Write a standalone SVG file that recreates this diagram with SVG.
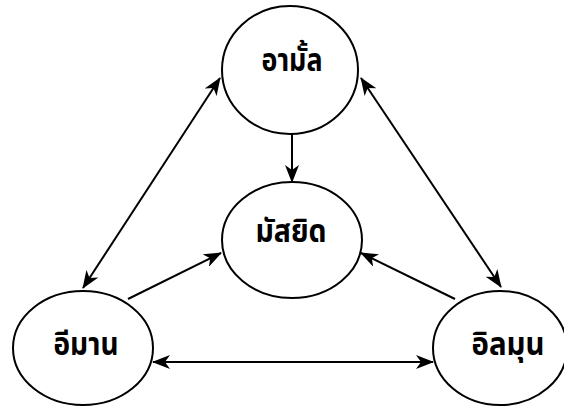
<svg xmlns="http://www.w3.org/2000/svg" width="564" height="409" viewBox="0 0 564 409">
<defs>
<style>
.node{fill:#fff;stroke:#000;stroke-width:2}
.lbl{font-family:"Noto Sans","Noto Sans Thai","DejaVu Sans",sans-serif;font-size:31px;font-weight:bold;text-anchor:middle;fill:#000}
.c{stroke:#000;stroke-width:2;fill:none}
</style>
<marker id="ah" viewBox="0 0 18 14" refX="17" refY="7" markerWidth="18" markerHeight="14" markerUnits="userSpaceOnUse" orient="auto-start-reverse">
<path d="M0,0 L18,7 L0,14 L5,7 z" fill="#000"/>
</marker>
</defs>
<rect width="564" height="409" fill="#fff"/>
<g id="n-amal"><ellipse class="node" cx="290" cy="70" rx="68" ry="64"/><text class="lbl" x="292" y="71" textLength="61" lengthAdjust="spacingAndGlyphs">อามั้ล</text></g>
<g id="n-masjid"><ellipse class="node" cx="292" cy="240" rx="70" ry="58"/><text class="lbl" x="291" y="242" textLength="71" lengthAdjust="spacingAndGlyphs">มัสยิด</text></g>
<g id="n-iman"><ellipse class="node" cx="83" cy="348" rx="70" ry="57"/><text class="lbl" x="86" y="355" textLength="65" lengthAdjust="spacingAndGlyphs">อีมาน</text></g>
<g id="n-ilmun"><ellipse class="node" cx="500" cy="348" rx="67" ry="57"/><text class="lbl" x="508" y="355" textLength="73" lengthAdjust="spacingAndGlyphs">อิลมุน</text></g>
<g id="connectors">
<line class="c" x1="292" y1="134" x2="292" y2="182" marker-end="url(#ah)"/>
<line class="c" x1="83" y1="288" x2="220" y2="78" marker-start="url(#ah)" marker-end="url(#ah)"/>
<line class="c" x1="361" y1="78" x2="501" y2="287" marker-start="url(#ah)" marker-end="url(#ah)"/>
<line class="c" x1="128" y1="299" x2="221" y2="253" marker-end="url(#ah)"/>
<line class="c" x1="455" y1="299" x2="361" y2="253" marker-end="url(#ah)"/>
<line class="c" x1="153" y1="362" x2="433" y2="362" marker-start="url(#ah)" marker-end="url(#ah)"/>
</g>
</svg>
